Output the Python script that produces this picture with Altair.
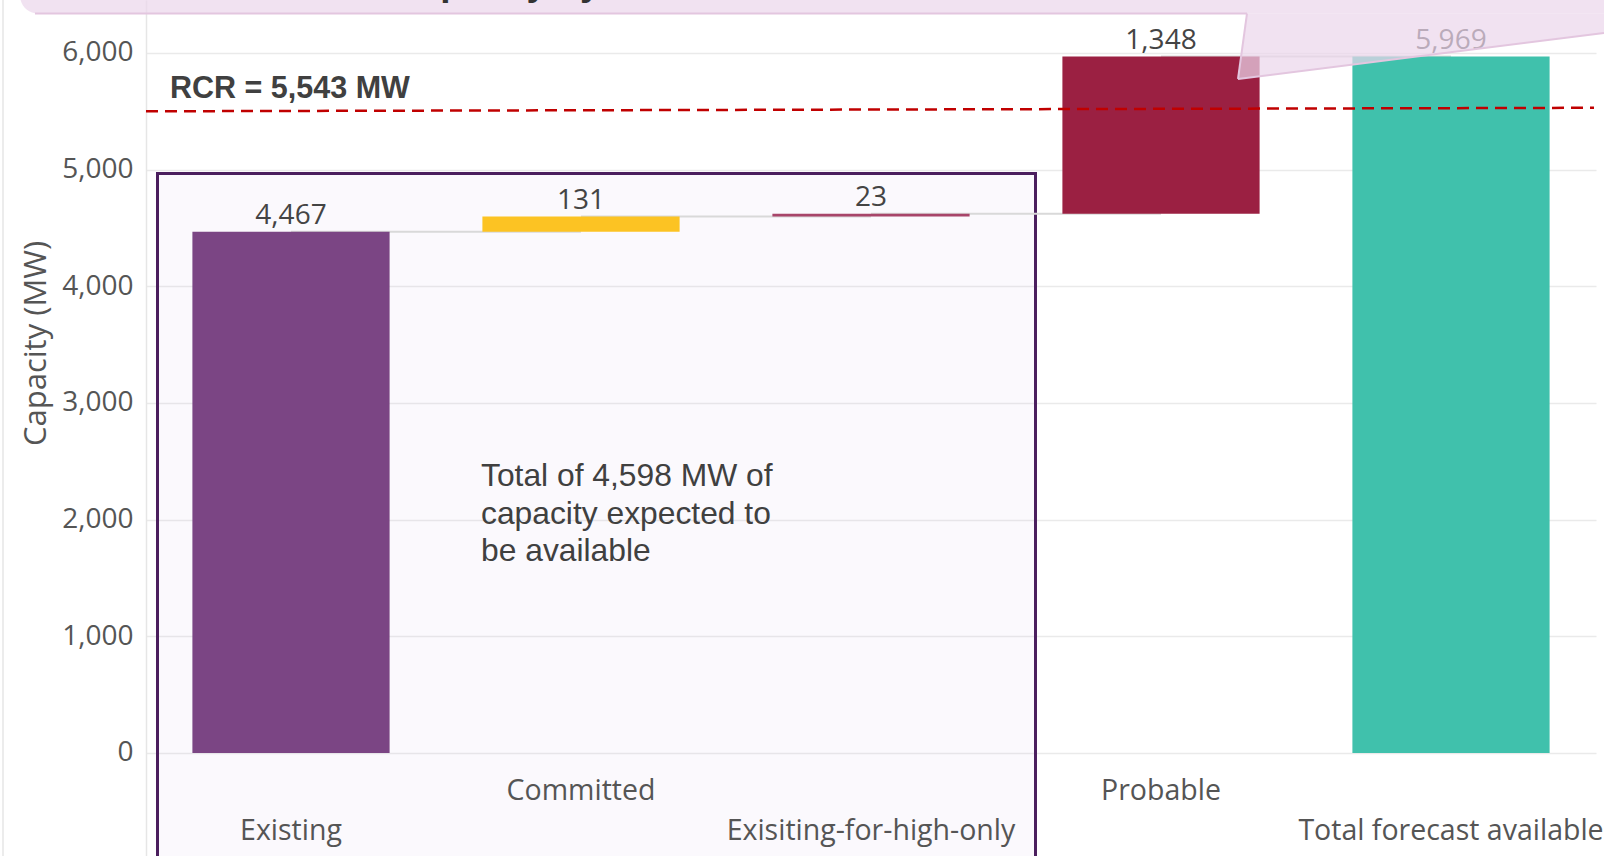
import altair as alt
import pandas as pd

# ---------------- data ----------------
categories = ["Existing", "Committed", "Exisiting-for-high-only", "Probable", "Total forecast available"]
values = [4467, 131, 23, 1348, 5969]
is_total = [False, False, False, False, True]
bar_colors = ["#7B4584", "#FCC323", "#A8456A", "#9B2042", "#40C1AC"]
y_ticks = [0, 1000, 2000, 3000, 4000, 5000, 6000]
rcr_value = 5543
rcr_line_ends = [5500, 5530]          # dashed line as drawn (slightly tilted)
note_lines = ["Total of 4,598 MW of", "capacity expected to", "be available"]
rcr_label = "RCR = 5,543  MW"
y_title = "Capacity (MW)"
callout_text = "capacity by"

# ---------------- derived tables ----------------
rows = []
running = 0
for cat, v, tot, col in zip(categories, values, is_total, bar_colors):
    if tot:
        start, end = 0, v
    else:
        start, end = running, running + v
        running = end
    rows.append({"cat": cat, "start": start, "end": end, "label": f"{v:,}", "color": col})
bars_df = pd.DataFrame(rows)

conn_rows = []
for i in range(len(rows) - 1):
    lvl = rows[i]["end"]
    conn_rows.append({"seg": i, "cat": rows[i]["cat"], "level": lvl})
    conn_rows.append({"seg": i, "cat": rows[i + 1]["cat"], "level": lvl})
conn_df = pd.DataFrame(conn_rows)

upper_df = pd.DataFrame({"cat": [c for i, c in enumerate(categories) if i % 2 == 1]})
lower_df = pd.DataFrame({"cat": [c for i, c in enumerate(categories) if i % 2 == 0]})

one = pd.DataFrame({"a": [0]})

X0 = 146  # plot left edge in page pixels
W, H = 1450, 856

xscale = alt.Scale(domain=categories, paddingInner=0.32, paddingOuter=0.16)
yscale = alt.Scale(domain=[-883, 6454], nice=False, zero=False)

FONT = "Open Sans"
ARIAL = "Arial, Liberation Sans"

# ---------------- layers ----------------
box = alt.Chart(one).mark_rect(
    fill="#C8AADC", fillOpacity=0.07, stroke="#4B1F5E", strokeWidth=3
).encode(
    x=alt.value(157.5 - X0), x2=alt.value(1035.5 - X0),
    y=alt.value(173.5), y2=alt.value(920),
)

connectors = alt.Chart(conn_df).mark_line(color="#D9D9D9", strokeWidth=2).encode(
    x=alt.X("cat:N", scale=xscale, axis=None, sort=categories),
    y=alt.Y("level:Q", scale=yscale),
    detail="seg:N",
)

bars = alt.Chart(bars_df).mark_bar().encode(
    x=alt.X("cat:N", scale=xscale, axis=None, sort=categories),
    y=alt.Y(
        "start:Q", scale=yscale,
        axis=alt.Axis(
            values=y_ticks, format=",.0f", title=y_title, ticks=False,
            labelFont=FONT, labelFontSize=28, labelColor="#555555", labelPadding=13,
            domainColor="#E6E6E6", domainWidth=1.5,
            gridColor="#EAEAEA", gridWidth=1.5,
            titleFont=FONT, titleFontSize=31, titleColor="#555555", titleFontWeight="normal",
            titleAngle=270, titleX=45 - X0, titleY=343, titleAlign="center",
            titleBaseline="alphabetic",
        ),
    ),
    y2="end:Q",
    color=alt.Color("color:N", scale=None),
)

value_labels = alt.Chart(bars_df).mark_text(
    font=FONT, fontSize=28, color="#444444", baseline="alphabetic", dy=-8
).encode(
    x=alt.X("cat:N", scale=xscale, axis=None, sort=categories),
    y=alt.Y("end:Q", scale=yscale),
    text="label:N",
)

xlab_upper = alt.Chart(upper_df).mark_text(
    font=FONT, fontSize=28.5, color="#555555", baseline="alphabetic"
).encode(
    x=alt.X("cat:N", scale=xscale, axis=None, sort=categories),
    y=alt.value(800),
    text="cat:N",
)
xlab_lower = alt.Chart(lower_df).mark_text(
    font=FONT, fontSize=28.5, color="#555555", baseline="alphabetic"
).encode(
    x=alt.X("cat:N", scale=xscale, axis=None, sort=categories),
    y=alt.value(840),
    text="cat:N",
)

rcr_line = alt.Chart(one).mark_rule(color="#C00000", strokeWidth=2.5, strokeDash=[12, 7]).encode(
    x=alt.value(0), x2=alt.value(1594 - X0),
    y=alt.datum(rcr_line_ends[0], scale=yscale), y2=alt.datum(rcr_line_ends[1]),
)

rcr_text = alt.Chart(one).mark_text(
    font=ARIAL, fontSize=30.5, fontWeight="bold", color="#404040", align="left", baseline="alphabetic"
).encode(x=alt.value(170 - X0), y=alt.value(98), text=alt.value(rcr_label))

note = alt.Chart(one).mark_text(
    font=ARIAL, fontSize=31.8, color="#404040", align="left", baseline="alphabetic", lineHeight=37.5
).encode(x=alt.value(481 - X0), y=alt.value(486), text=alt.value(note_lines))

# callout shape at the top (decoration)
CALL_FILL = "#EBD6EB"
CALL_OP = 0.71
CALL_EDGE = "#E3C6DF"
callout_band = alt.Chart(one).mark_rect(
    fill=CALL_FILL, fillOpacity=CALL_OP, cornerRadius=18
).encode(
    x=alt.value(20 - X0), x2=alt.value(1640 - X0), y=alt.value(-40), y2=alt.value(13.5)
)
pointer_df = pd.DataFrame({
    "px": [1238 - X0, 1247 - X0, 1604 - X0],
    "py": [79, 13.5, 13.5],
    "py2": [79, 77.87, 33],
})
callout_pointer = alt.Chart(pointer_df).mark_area(
    fill=CALL_FILL, fillOpacity=CALL_OP
).encode(
    x=alt.X("px:Q", scale=None, axis=None),
    y=alt.Y("py:Q", scale=None, axis=None),
    y2="py2:Q",
)
edge_df = pd.DataFrame({
    "x1": [35 - X0, 1247 - X0, 1238 - X0],
    "x2": [1247 - X0, 1238 - X0, 1604 - X0],
    "y1": [13.5, 13.5, 79],
    "y2": [13.5, 79, 33],
})
callout_edges = alt.Chart(edge_df).mark_rule(color=CALL_EDGE, strokeWidth=2).encode(
    x=alt.X("x1:Q", scale=None, axis=None), x2="x2:Q",
    y=alt.Y("y1:Q", scale=None, axis=None), y2="y2:Q",
)
callout_words = alt.Chart(one).mark_text(
    font=ARIAL, fontSize=37, fontWeight="bold", color="#333333", align="left", baseline="alphabetic"
).encode(x=alt.value(399 - X0), y=alt.value(-5), text=alt.value(callout_text))

container_edge = alt.Chart(one).mark_rule(color="#E6E6E6", strokeWidth=1.5).encode(
    x=alt.value(3 - X0), y=alt.value(0), y2=alt.value(H)
)

chart = alt.layer(
    box, connectors, bars, value_labels, xlab_upper, xlab_lower,
    rcr_line, rcr_text, note,
    callout_band, callout_pointer, callout_edges, callout_words, container_edge,
).properties(
    width=W, height=H,
    padding={"left": X0, "top": 0, "right": 1604 - X0 - W, "bottom": 0},
    autosize=alt.AutoSizeParams(type="none"),
    background="white",
).configure_view(stroke=None)

chart.save("out.html", embed_options={"renderer": "svg", "actions": False})
